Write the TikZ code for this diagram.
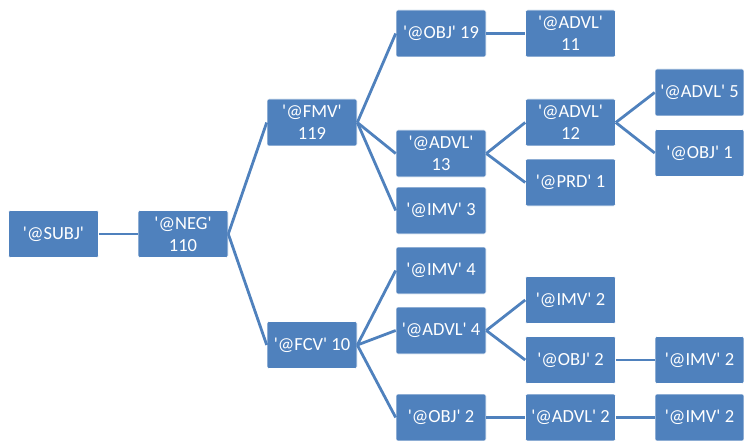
\documentclass[tikz,border=0pt]{standalone}
\usepackage{fontspec}
\setmainfont{Carlito}
\definecolor{boxblue}{RGB}{79,129,189}
\newcommand{\qq}{\textquotesingle}
\begin{document}
\begin{tikzpicture}[x=1pt,y=-1pt,
  box/.style={rectangle, rounded corners=2pt, fill=boxblue, draw=white, line width=0.6pt,
    minimum width=90pt, minimum height=47pt, inner sep=1pt, align=center, text=white,
    font=\fontsize{18.5}{22}\selectfont},
  edgeline/.style={draw=boxblue, line width=2.8pt}]
\useasboundingbox (0,0) rectangle (744,441);
\node[box] (subj) at (53.5,234) {\qq@SUBJ\qq};
\node[box] (neg) at (183,234) {\qq@NEG\qq\\110};
\node[box] (fmv) at (312,122.5) {\qq@FMV\qq\\119};
\node[box] (fcv) at (312,345) {\qq@FCV\qq\ 10};
\node[box] (obj19) at (441,33.5) {\qq@OBJ\qq\ 19};
\node[box] (advl13) at (441,153.5) {\qq@ADVL\qq\\13};
\node[box] (imv3) at (441,210.5) {\qq@IMV\qq\ 3};
\node[box] (imv4) at (441,270.5) {\qq@IMV\qq\ 4};
\node[box] (advl4) at (441,330.5) {\qq@ADVL\qq\ 4};
\node[box] (obj2) at (441,417.5) {\qq@OBJ\qq\ 2};
\node[box] (advl11) at (570.5,33.5) {\qq@ADVL\qq\\11};
\node[box] (advl12) at (570.5,122.5) {\qq@ADVL\qq\\12};
\node[box] (prd1) at (570.5,182.5) {\qq@PRD\qq\ 1};
\node[box] (imv2a) at (570.5,300) {\qq@IMV\qq\ 2};
\node[box] (obj2b) at (570.5,360) {\qq@OBJ\qq\ 2};
\node[box] (advl2) at (570.5,417.5) {\qq@ADVL\qq\ 2};
\node[box, minimum width=89pt] (advl5) at (699.5,92.5) {\qq@ADVL\qq\ 5};
\node[box, minimum width=89pt] (obj1) at (699.5,153) {\qq@OBJ\qq\ 1};
\node[box, minimum width=89pt] (imv2b) at (699.5,360) {\qq@IMV\qq\ 2};
\node[box, minimum width=89pt] (imv2c) at (699.5,417.5) {\qq@IMV\qq\ 2};
\path[edgeline] (subj.east) -- (neg.west);
\path[edgeline] (neg.east) -- (fmv.west);
\path[edgeline] (neg.east) -- (fcv.west);
\path[edgeline] (fmv.east) -- (obj19.west);
\path[edgeline] (fmv.east) -- (advl13.west);
\path[edgeline] (fmv.east) -- (imv3.west);
\path[edgeline] (obj19.east) -- (advl11.west);
\path[edgeline] (advl13.east) -- (advl12.west);
\path[edgeline] (advl13.east) -- (prd1.west);
\path[edgeline] (advl12.east) -- (advl5.west);
\path[edgeline] (advl12.east) -- (obj1.west);
\path[edgeline] (fcv.east) -- (imv4.west);
\path[edgeline] (fcv.east) -- (advl4.west);
\path[edgeline] (fcv.east) -- (obj2.west);
\path[edgeline] (advl4.east) -- (imv2a.west);
\path[edgeline] (advl4.east) -- (obj2b.west);
\path[edgeline] (obj2b.east) -- (imv2b.west);
\path[edgeline] (obj2.east) -- (advl2.west);
\path[edgeline] (advl2.east) -- (imv2c.west);
\end{tikzpicture}
\end{document}
